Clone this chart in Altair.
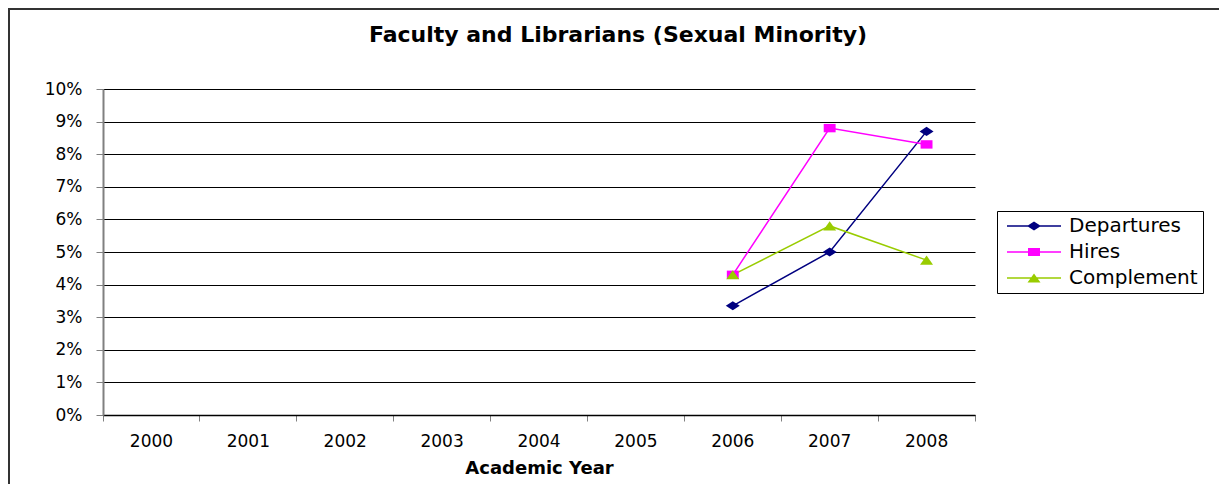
import altair as alt
import pandas as pd

years = ["2000", "2001", "2002", "2003", "2004", "2005", "2006", "2007", "2008"]
series = ["Departures", "Hires", "Complement"]
departures = [None, None, None, None, None, None, 0.0335, 0.050, 0.087]
hires = [None, None, None, None, None, None, 0.043, 0.088, 0.083]
complement = [None, None, None, None, None, None, 0.043, 0.058, 0.0475]
colors = ["#000080", "#FF00FF", "#99CC00"]
y_ticks = [0.0, 0.01, 0.02, 0.03, 0.04, 0.05, 0.06, 0.07, 0.08, 0.09, 0.10]
title_text = "Faculty and Librarians (Sexual Minority)"
x_title = "Academic Year"

rows = []
for name, vals in zip(series, [departures, hires, complement]):
    for yr, v in zip(years, vals):
        if v is not None:
            rows.append({"Year": yr, "Series": name, "Value": v})
df = pd.DataFrame(rows)

W, H = 872, 326
FONT = "DejaVu Sans"

# marker shapes (wide, like the stretched original)
point_paths = [
    "M0,-0.65L1,0L0,0.65L-1,0Z",
    "M-0.85,-0.6H0.85V0.6H-0.85Z",
    "M0,-0.65L0.93,0.65H-0.93Z",
]
# legend symbols: line segment plus marker
legend_paths = [
    "M-5.4,-0.15H5.4V0.15H-5.4Z M0,-0.9L1.4,0L0,0.9L-1.4,0Z",
    "M-5.4,-0.15H5.4V0.15H-5.4Z M-1.2,-0.8H1.2V0.8H-1.2Z",
    "M-5.4,-0.15H5.4V0.15H-5.4Z M0,-0.9L1.3,0.9H-1.3Z",
]

x_enc = alt.X(
    "Year:N",
    scale=alt.Scale(type="band", domain=years, paddingInner=0, paddingOuter=0),
    axis=alt.Axis(
        title=x_title, labelAngle=0, bandPosition=1, tickExtra=True,
        tickSize=6, labelPadding=12, titlePadding=10,
        domainColor="black", domainWidth=1.5, tickColor="#808080",
        labelFont=FONT, labelFontSize=17, labelColor="black",
        titleFont=FONT, titleFontSize=18, titleFontWeight="bold", titleColor="black",
        grid=False,
    ),
)
y_enc = alt.Y(
    "Value:Q",
    scale=alt.Scale(domain=[0, 0.1], nice=False, zero=True),
    axis=alt.Axis(
        title=None, values=y_ticks, format=".0%", tickSize=7, labelPadding=14,
        grid=True, gridColor="black", gridWidth=1, gridOpacity=1,
        domainColor="#808080", domainWidth=2, tickColor="#808080",
        labelFont=FONT, labelFontSize=17, labelColor="black",
    ),
)
color_nolegend = alt.Color("Series:N", scale=alt.Scale(domain=series, range=colors), legend=None)

frame = alt.Chart(pd.DataFrame({"a": [0]})).mark_rect(
    fill="transparent", stroke="#333333", strokeWidth=2
).encode(x=alt.value(-94), x2=alt.value(1400), y=alt.value(-80), y2=alt.value(600))

title = alt.Chart(pd.DataFrame({"t": [title_text]})).mark_text(
    font=FONT, fontSize=22, fontWeight="bold", align="center", baseline="alphabetic", color="black"
).encode(x=alt.value(515), y=alt.value(-47), text="t:N")

lines = alt.Chart(df).mark_line(strokeWidth=1.5).encode(
    x=x_enc, y=y_enc, color=color_nolegend, detail="Series:N"
)

points = alt.Chart(df).mark_point(filled=True, size=196, opacity=1).encode(
    x=x_enc, y=y_enc, color=color_nolegend,
    shape=alt.Shape("Series:N", scale=alt.Scale(domain=series, range=point_paths), legend=None),
)

leg = alt.Legend(
    title=None, orient="none", legendX=894, legendY=122, padding=5,
    strokeColor="black", fillColor="white", symbolSize=100, symbolOffset=22,
    labelOffset=25, rowPadding=6, labelFont=FONT, labelFontSize=20,
    labelColor="black", symbolStrokeWidth=0, symbolOpacity=1, labelLimit=300,
)
legend_layer = alt.Chart(df).mark_point(filled=True, size=100).encode(
    x=alt.value(-3000), y=alt.value(-3000),
    color=alt.Color("Series:N", scale=alt.Scale(domain=series, range=colors), legend=leg),
    shape=alt.Shape("Series:N", scale=alt.Scale(domain=series, range=legend_paths), legend=leg),
)

chart = alt.layer(frame, title, lines, points, legend_layer).resolve_scale(
    color="independent", shape="independent"
).properties(
    width=W, height=H,
    autosize=alt.AutoSizeParams(type="none"),
    padding={"left": 95, "top": 81, "right": 244, "bottom": 69},
    background="white",
).configure_view(strokeWidth=0)

chart.save("out.html", embed_options={"renderer": "svg", "actions": False})
